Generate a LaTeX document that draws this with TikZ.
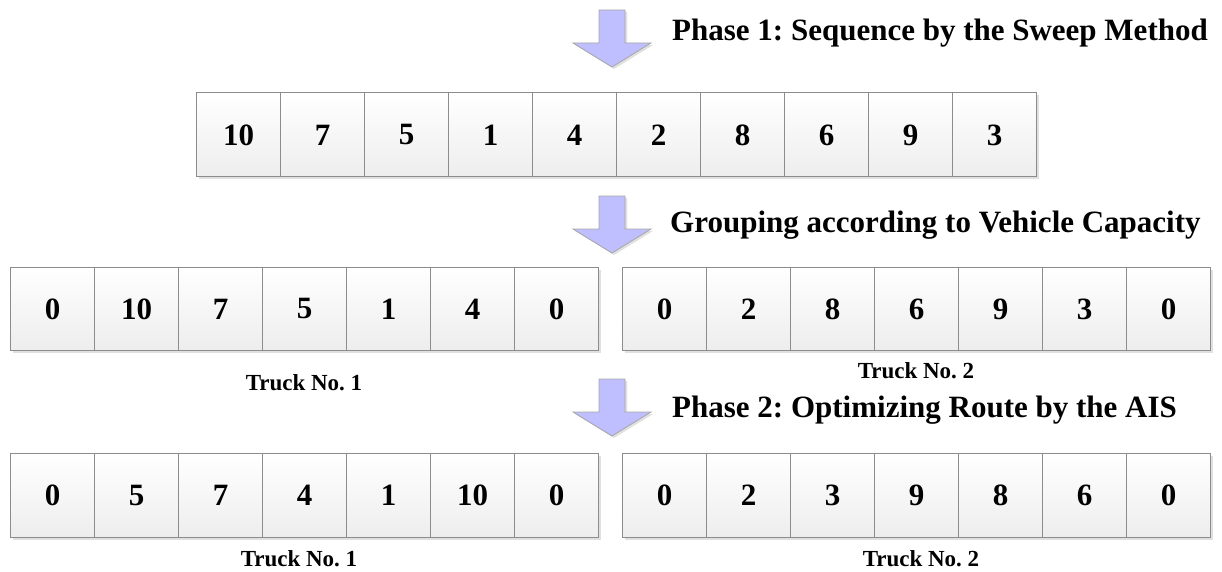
\documentclass[tikz,border=0pt]{standalone}
\usepackage{fontspec}
\setmainfont{Liberation Serif}
\usetikzlibrary{shadows}
\frenchspacing
\begin{document}
\begin{tikzpicture}[x=1pt,y=-1pt,
  cell/.style={draw=black!45, line width=1pt, top color=white, bottom color=black!7,
    minimum width=84pt, minimum height=84pt, inner sep=0pt, anchor=north west,
    font=\fontsize{31}{34}\selectfont\bfseries,
    drop shadow={shadow xshift=2pt, shadow yshift=-2pt, opacity=0.2, fill=black!60}},
  phase/.style={anchor=west, inner sep=0pt, font=\fontsize{31}{34}\selectfont\bfseries},
  truck/.style={inner sep=0pt, font=\fontsize{23}{26}\selectfont\bfseries},
  downarrow/.style={fill=blue!25!white, draw=black!35, line width=0.8pt,
    drop shadow={shadow xshift=2pt, shadow yshift=-2pt, opacity=0.2, fill=black!60}}
]
\useasboundingbox (0,0) rectangle (1222,572);

% arrows
\foreach \t in {10,196,379}{
  \path[downarrow] (599,\t) -- (625,\t) -- (625,\t+33) -- (651,\t+33) -- (612,\t+57)
     -- (573,\t+33) -- (599,\t+33) -- cycle;
}

% labels
\node[phase] (p1) at (672,33) {Phase 1: Sequence by the Sweep Method};
\node[phase] (p2) at (670,225) {Grouping according to Vehicle Capacity};
\node[phase] (p3) at (672,410) {Phase 2: Optimizing Route by the AIS};

% row 1
\foreach \v [count=\i from 0] in {10,7,5,1,4,2,8,6,9,3}{
  \node[cell] (a\i) at (196+84*\i,92.5) {\v};
}
% row 2
\foreach \v [count=\i from 0] in {0,10,7,5,1,4,0}{
  \node[cell, minimum height=83pt] (b\i) at (10+84*\i,267) {\v};
}
\foreach \v [count=\i from 0] in {0,2,8,6,9,3,0}{
  \node[cell, minimum height=83pt] (c\i) at (622+84*\i,267) {\v};
}
% row 3
\foreach \v [count=\i from 0] in {0,5,7,4,1,10,0}{
  \node[cell] (d\i) at (10+84*\i,453) {\v};
}
\foreach \v [count=\i from 0] in {0,2,3,9,8,6,0}{
  \node[cell] (e\i) at (622+84*\i,453) {\v};
}

\node[truck] (t1) at (304,383) {Truck No. 1};
\node[truck] (t2) at (916,371) {Truck No. 2};
\node[truck] (t3) at (299,559) {Truck No. 1};
\node[truck] (t4) at (921,559) {Truck No. 2};
\end{tikzpicture}
\end{document}
